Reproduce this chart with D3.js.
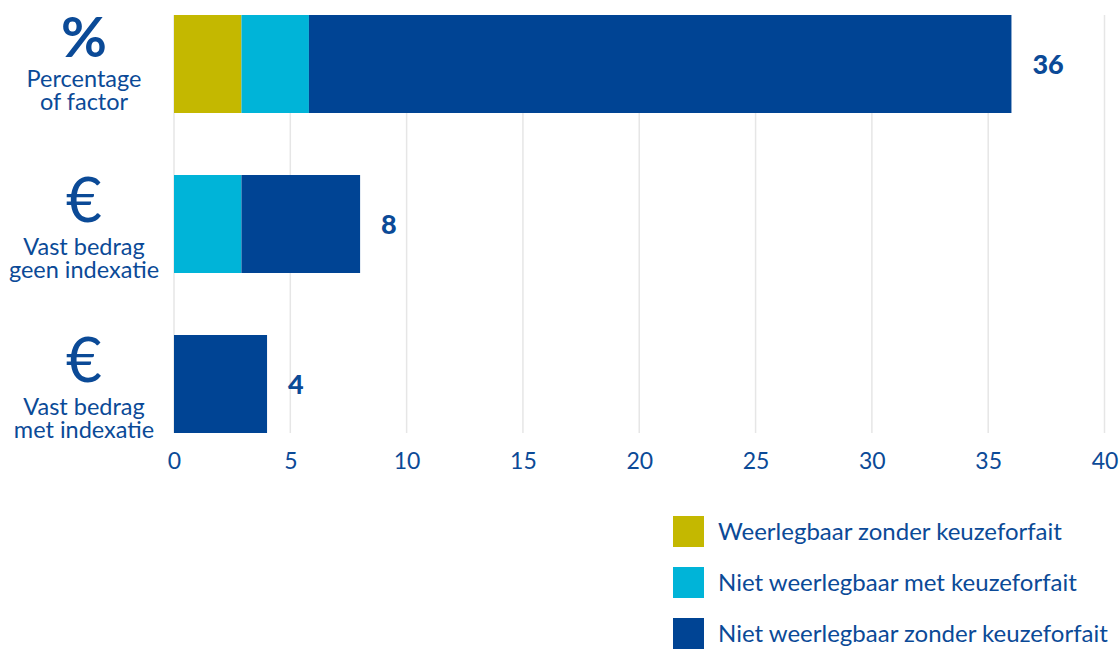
<!DOCTYPE html>
<html><head><meta charset="utf-8">
<script src="https://cdn.jsdelivr.net/npm/d3@7"></script>
<style>body{margin:0;background:#fff}svg{display:block}text{font-family:Lato,"Open Sans",sans-serif}</style>
</head><body><svg id="c" width="1120" height="650"></svg>
<script>
const categories = ["Percentage of factor", "Vast bedrag geen indexatie", "Vast bedrag met indexatie"];
const categoryIcons = ["%", "€", "€"];
const categoryLines = [["Percentage", "of factor"], ["Vast bedrag", "geen indexatie"], ["Vast bedrag", "met indexatie"]];
const seriesNames = ["Weerlegbaar zonder keuzeforfait", "Niet weerlegbaar met keuzeforfait", "Niet weerlegbaar zonder keuzeforfait"];
const weerlegbaarZonder = [2.9, 0, 0];
const nietWeerlegbaarMet = [2.9, 2.9, 0];
const nietWeerlegbaarZonder = [30.2, 5.1, 4];
const totals = [36, 8, 4];
const xTicks = [0, 5, 10, 15, 20, 25, 30, 35, 40];
const colors = ["#c4b800", "#00b4d8", "#004494"];
const textColor = "#0b4a97";

const svg = d3.select("#c");
const x = d3.scaleLinear().domain([0, 40]).range([174, 1104.5]);
const y = d3.scaleBand().domain(categories).range([15, 433]).paddingInner(0.3875).paddingOuter(0);
const bw = y.bandwidth();
const barTop = i => y(categories[i]);

const rows = categories.map((c, i) => ({cat: c, vals: [weerlegbaarZonder[i], nietWeerlegbaarMet[i], nietWeerlegbaarZonder[i]]}));
const stacked = d3.stack().keys([0, 1, 2]).value((d, k) => d.vals[k])(rows);

// grid
svg.append("g").selectAll("line").data(xTicks).join("line")
  .attr("x1", d => x(d)).attr("x2", d => x(d))
  .attr("y1", 15).attr("y2", 433)
  .attr("stroke", "#e6e6e6").attr("stroke-width", 1.5);

// axis
const axis = svg.append("g").attr("transform", "translate(0,433)")
  .call(d3.axisBottom(x).tickValues(xTicks).tickSize(0).tickPadding(20).tickFormat(d3.format("d")));
axis.select(".domain").remove();
axis.selectAll("text").attr("fill", textColor).style("font-size", "23px").style("font-family", "Lato, 'Open Sans', sans-serif");

// bars
svg.append("g").selectAll("g").data(stacked).join("g")
  .attr("fill", (d, i) => colors[i])
  .selectAll("rect").data(d => d).join("rect")
  .attr("x", d => x(d[0]))
  .attr("width", d => x(d[1]) - x(d[0]))
  .attr("y", (d, i) => barTop(i))
  .attr("height", bw);

// value labels
svg.append("g").selectAll("text").data(totals).join("text")
  .attr("x", (d, i) => x(d3.sum(rows[i].vals)) + 21)
  .attr("y", (d, i) => barTop(i) + bw / 2)
  .attr("dy", "0.36em")
  .attr("fill", textColor).attr("font-weight", "900").style("font-size", "27px")
  .text(d => d);

// category labels
const cg = svg.append("g").selectAll("g").data(categories).join("g")
  .attr("transform", (d, i) => `translate(84,${barTop(i)})`);
cg.append("text").attr("text-anchor", "middle")
  .attr("y", (d, i) => i === 0 ? 42 : 47)
  .attr("fill", textColor)
  .attr("font-weight", (d, i) => i === 0 ? "bold" : "normal")
  .style("font-size", (d, i) => i === 0 ? "56px" : "62px")
  .text((d, i) => categoryIcons[i]);
cg.each(function(d, i) {
  const g = d3.select(this);
  const base = i === 0 ? 72 : 80;
  categoryLines[i].forEach((ln, j) => {
    g.append("text").attr("text-anchor", "middle")
      .attr("y", base + j * 23)
      .attr("fill", textColor).style("font-size", "23.5px").text(ln);
  });
});

// legend
const lg = svg.append("g").selectAll("g").data(seriesNames).join("g")
  .attr("transform", (d, i) => `translate(673,${516 + i * 51})`);
lg.append("rect").attr("width", 31).attr("height", 31).attr("fill", (d, i) => colors[i]);
lg.append("text").attr("x", 45).attr("y", 15.5).attr("dy", "0.35em")
  .attr("fill", textColor).style("font-size", "24px").text(d => d);
</script></body></html>
